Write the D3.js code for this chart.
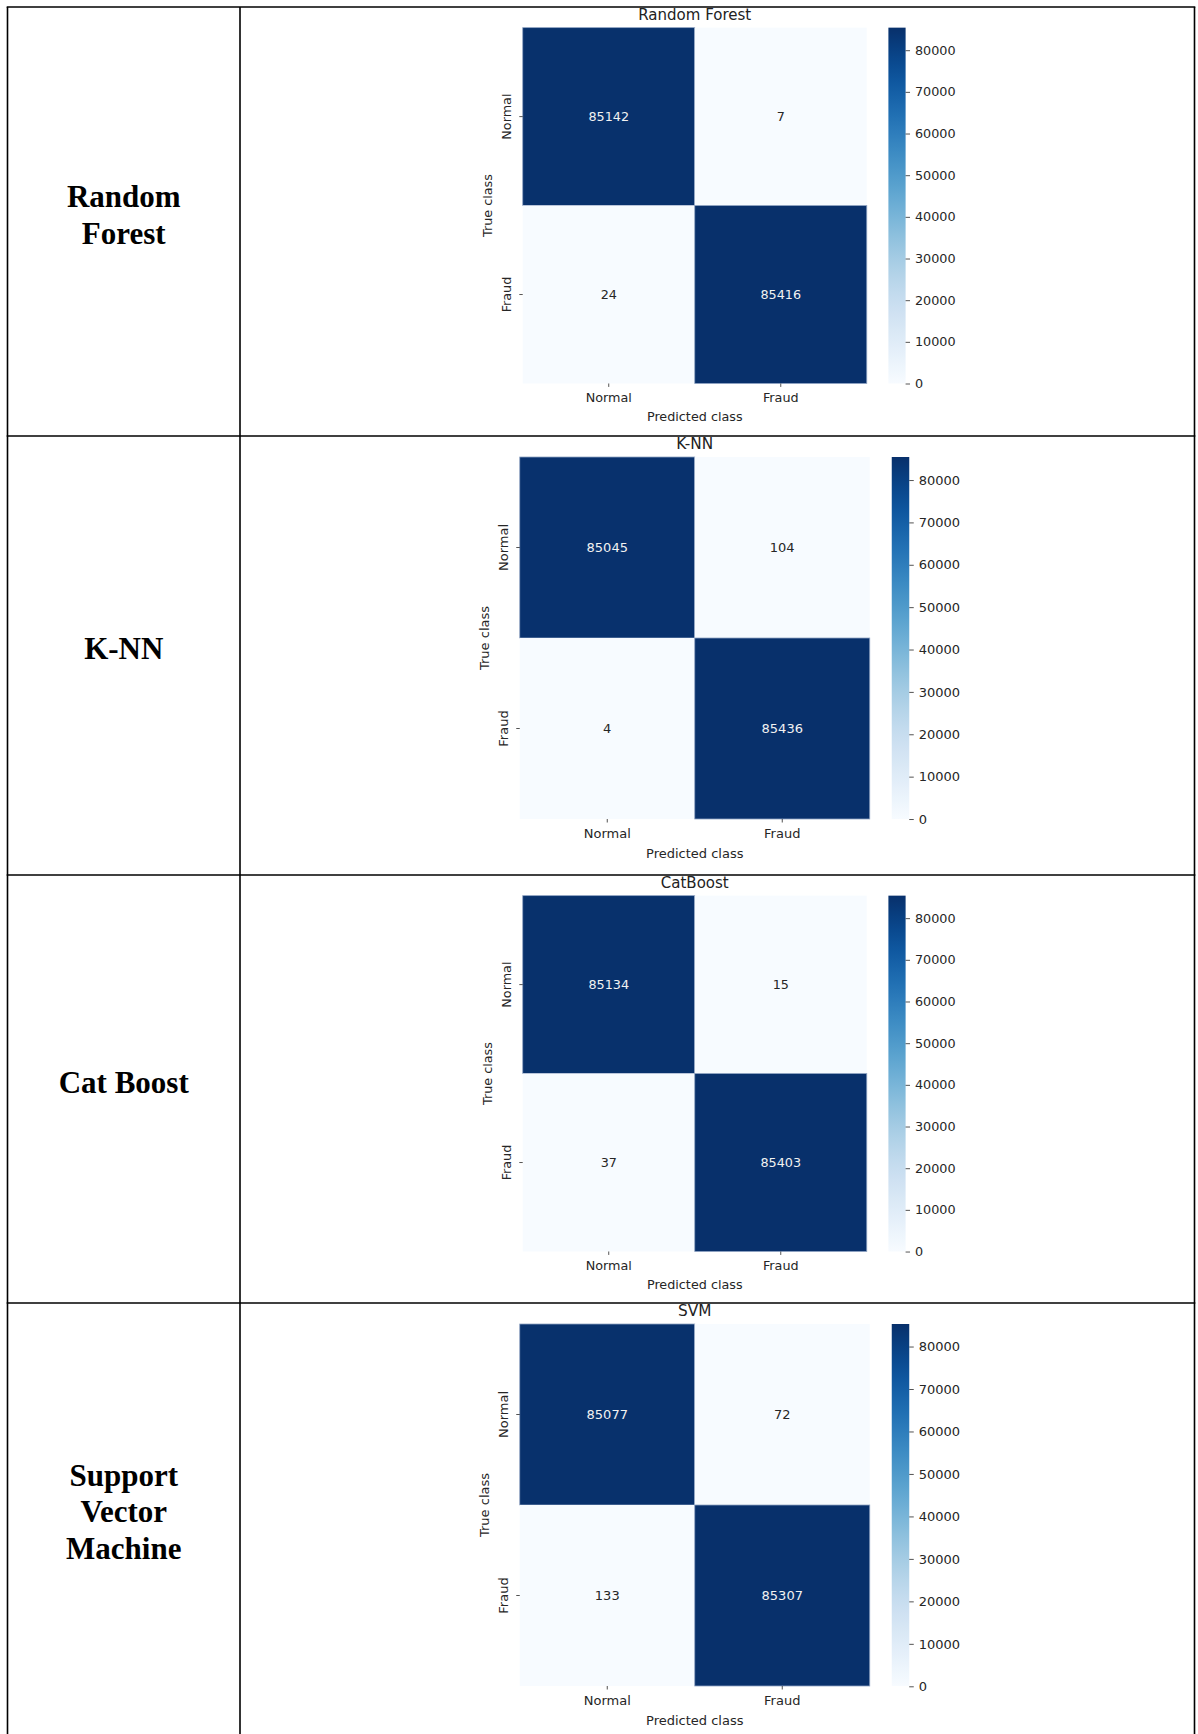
<!DOCTYPE html>
<html>
<head>
<meta charset="utf-8">
<script src="https://cdn.jsdelivr.net/npm/d3@7"></script>
<style>
  body { margin: 0; background: #fff; }
  svg text { font-family: "DejaVu Sans", sans-serif; }
</style>
</head>
<body>
<div id="table"></div>
<script>
// Chart data
const modelTitles = ["Random Forest", "K-NN", "CatBoost", "SVM"];
const rowLabels = [["Random", "Forest"], ["K-NN"], ["Cat Boost"], ["Support", "Vector", "Machine"]];
const classes = ["Normal", "Fraud"];
const rfMatrix = [[85142, 7], [24, 85416]];
const knnMatrix = [[85045, 104], [4, 85436]];
const catMatrix = [[85134, 15], [37, 85403]];
const svmMatrix = [[85077, 72], [133, 85307]];
const matrices = [rfMatrix, knnMatrix, catMatrix, svmMatrix];
const colorbarTicks = [0, 10000, 20000, 30000, 40000, 50000, 60000, 70000, 80000];

// Page / table layout
const svgWidth = 1198;
const svgHeight = 1734;
const rowLines = [7, 436, 875, 1303];
const tableBottom = 1734;
const leftX = 7.5, sepX = 240, rightX = 1194.5;
const panelCx = 694.75;
const panelScale = [0.983, 1, 0.983, 1];
const tickFont = "13px";
const titleFont = "15.3px";

// panel geometry at scale 1 (relative to panel centre and row line)
const hm = { left: -175, right: 175, top: 21, bottom: 383 };
const cbar = { left: 197, right: 214.5 };

const svg = d3.select("#table")
  .append("svg")
  .attr("width", svgWidth)
  .attr("height", svgHeight);

svg.append("rect")
  .attr("width", svgWidth)
  .attr("height", svgHeight)
  .attr("fill", "#fff");

const defs = svg.append("defs");

matrices.forEach(function (matrix, i) {
  const rowTop = rowLines[i];
  const rowBottom = i < rowLines.length - 1 ? rowLines[i + 1] : tableBottom;

  // Left column: model name
  const labelLines = rowLabels[i];
  const lineGap = 36.5;
  const cy = (rowTop + rowBottom) / 2 - 7;
  svg.append("text")
    .attr("x", (leftX + sepX) / 2)
    .attr("y", cy - (labelLines.length - 1) * lineGap / 2)
    .style("font-family", "'Liberation Serif', 'Times New Roman', serif")
    .style("font-weight", "bold")
    .style("font-size", "31px")
    .style("text-anchor", "middle")
    .selectAll("tspan")
    .data(labelLines)
    .enter()
    .append("tspan")
    .attr("x", (leftX + sepX) / 2)
    .attr("dy", (d, j) => j === 0 ? "0.35em" : lineGap)
    .text(d => d);

  // Heatmap panel
  const values = matrix.flat();
  const vmin = d3.min(values), vmax = d3.max(values);
  const color = d3.scaleSequential(d3.interpolateBlues).domain([vmin, vmax]);
  const isDark = v => (v - vmin) / (vmax - vmin) > 0.5;

  const g = svg.append("g")
    .attr("transform", `translate(${panelCx}, ${rowTop}) scale(${panelScale[i]})`);

  const xScale = d3.scaleBand().domain(classes).range([hm.left, hm.right]);
  const yScale = d3.scaleBand().domain(classes).range([hm.top, hm.bottom]);

  const cells = [];
  matrix.forEach((row, r) => row.forEach((v, c) => cells.push({ t: classes[r], p: classes[c], v: v })));

  g.selectAll("rect.cell")
    .data(cells)
    .enter()
    .append("rect")
    .attr("class", "cell")
    .attr("x", d => xScale(d.p))
    .attr("y", d => yScale(d.t))
    .attr("width", xScale.bandwidth())
    .attr("height", yScale.bandwidth())
    .attr("fill", d => color(d.v))
    .attr("stroke", d => isDark(d.v) ? "#8fa3c2" : "none")
    .attr("stroke-width", 0.8);

  g.selectAll("text.annot")
    .data(cells)
    .enter()
    .append("text")
    .attr("class", "annot")
    .attr("x", d => xScale(d.p) + xScale.bandwidth() / 2)
    .attr("y", d => yScale(d.t) + yScale.bandwidth() / 2)
    .attr("dy", "0.35em")
    .style("font-size", tickFont)
    .style("text-anchor", "middle")
    .style("fill", d => isDark(d.v) ? "#f2f2f2" : "#262626")
    .text(d => d.v);

  // Axes
  const bottomAxis = d3.axisBottom(xScale).tickSize(3.5).tickPadding(6.5);
  const xAxisG = g.append("g")
    .attr("transform", `translate(0, ${hm.bottom})`)
    .call(bottomAxis);
  xAxisG.select(".domain").remove();
  xAxisG.selectAll("text").style("font-size", tickFont).style("fill", "#262626");
  xAxisG.selectAll("line").attr("stroke", "#262626").attr("stroke-width", 0.8);

  const leftAxis = d3.axisLeft(yScale).tickSize(3.5);
  const yAxisG = g.append("g")
    .attr("transform", `translate(${hm.left}, 0)`)
    .call(leftAxis);
  yAxisG.select(".domain").remove();
  yAxisG.selectAll("line").attr("stroke", "#262626").attr("stroke-width", 0.8);
  yAxisG.selectAll("text")
    .attr("transform", "rotate(-90)")
    .attr("x", 0)
    .attr("y", -16)
    .attr("dy", "0.35em")
    .style("text-anchor", "middle")
    .style("font-size", tickFont)
    .style("fill", "#262626");

  // Title and axis labels
  g.append("text")
    .attr("x", 0)
    .attr("y", 12.8)
    .style("font-size", titleFont)
    .style("text-anchor", "middle")
    .style("fill", "#222")
    .text(modelTitles[i]);

  g.append("text")
    .attr("x", 0)
    .attr("y", 421.5)
    .style("font-size", tickFont)
    .style("text-anchor", "middle")
    .style("fill", "#262626")
    .text("Predicted class");

  g.append("text")
    .attr("transform", `translate(${hm.left - 35.5}, ${(hm.top + hm.bottom) / 2}) rotate(-90)`)
    .attr("dy", "0.35em")
    .style("font-size", tickFont)
    .style("text-anchor", "middle")
    .style("fill", "#262626")
    .text("True class");

  // Colorbar
  const cbScale = d3.scaleLinear().domain([vmin, vmax]).range([hm.bottom, hm.top]);
  const gradId = "blues" + i;
  const grad = defs.append("linearGradient")
    .attr("id", gradId)
    .attr("x1", 0).attr("y1", 1).attr("x2", 0).attr("y2", 0);
  d3.range(0, 1.0001, 0.05).forEach(function (t) {
    grad.append("stop")
      .attr("offset", t)
      .attr("stop-color", d3.interpolateBlues(t));
  });
  g.append("rect")
    .attr("x", cbar.left)
    .attr("y", cbScale(vmax))
    .attr("width", cbar.right - cbar.left)
    .attr("height", cbScale(vmin) - cbScale(vmax))
    .attr("fill", `url(#${gradId})`);

  const cbAxis = d3.axisRight(cbScale)
    .tickValues(colorbarTicks)
    .tickFormat(d3.format("d"))
    .tickSize(4.5)
    .tickPadding(5);
  const cbG = g.append("g")
    .attr("transform", `translate(${cbar.right}, 0)`)
    .call(cbAxis);
  cbG.select(".domain").remove();
  cbG.selectAll("line").attr("stroke", "#262626").attr("stroke-width", 0.8);
  cbG.selectAll("text").style("font-size", tickFont).style("fill", "#262626");
});

// Table grid lines
const grid = svg.append("g")
  .attr("stroke", "#000")
  .attr("stroke-width", 1.6);

rowLines.forEach(function (y) {
  grid.append("line").attr("x1", leftX - 0.8).attr("x2", rightX + 0.8).attr("y1", y).attr("y2", y);
});
[leftX, sepX, rightX].forEach(function (x) {
  grid.append("line").attr("x1", x).attr("x2", x).attr("y1", rowLines[0]).attr("y2", tableBottom);
});
</script>
</body>
</html>
